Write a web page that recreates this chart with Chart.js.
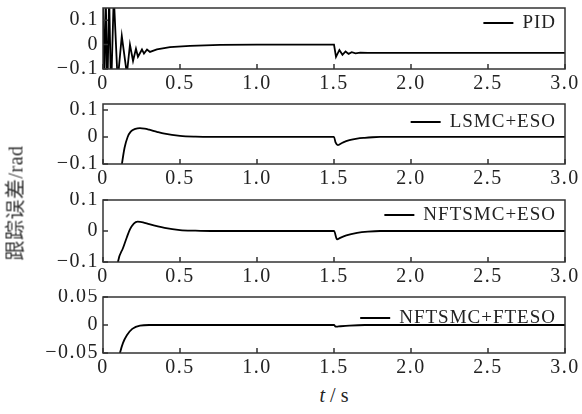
<!DOCTYPE html>
<html>
<head>
<meta charset="utf-8">
<script src="https://cdn.jsdelivr.net/npm/chart.js@4.4.0/dist/chart.umd.min.js"></script>
<style>
  body { margin: 0; background: #fff; }
  #wrap { position: relative; width: 582px; height: 414px; }
  canvas { position: absolute; left: 0; }
  .ytitle { position: absolute; left: 14px; top: 203px; transform: translate(-50%, -50%) rotate(-90deg);
            font: 20px "Liberation Serif", "Noto Sans CJK SC"; white-space: nowrap; color: #333; letter-spacing: 0.5px; }
  .xtitle { position: absolute; left: 334px; top: 395px; transform: translate(-50%, -50%);
            font: 20px "Liberation Serif"; color: #222; white-space: nowrap; }
</style>
</head>
<body>
<div id="wrap">
  <canvas id="c1" width="582" height="93" style="top:0px"></canvas>
  <canvas id="c2" width="582" height="92" style="top:96px"></canvas>
  <canvas id="c3" width="582" height="94" style="top:192px"></canvas>
  <canvas id="c4" width="582" height="88" style="top:289px"></canvas>
  <div class="ytitle">跟踪误差/rad</div>
  <div class="xtitle"><i>t</i> / s</div>
</div>
<script>
// x axis
var xTickLabels = ['0', '0.5', '1.0', '1.5', '2.0', '2.5', '3.0'];
var seriesNames = ['PID', 'LSMC+ESO', 'NFTSMC+ESO', 'NFTSMC+FTESO'];

// y ticks per panel
var yTicks1 = [-0.1, 0, 0.1], yLabels1 = ['\u22120.1', '0', '0.1'];
var yTicks2 = [-0.1, 0, 0.1], yLabels2 = ['\u22120.1', '0', '0.1'];
var yTicks3 = [-0.1, 0, 0.1], yLabels3 = ['\u22120.1', '0', '0.1'];
var yTicks4 = [-0.05, 0, 0.05], yLabels4 = ['\u22120.05', '0', '0.05'];

// tracking error
var pidT = [0, 0.008, 0.018, 0.028, 0.04, 0.052, 0.07, 0.095, 0.122, 0.155, 0.175, 0.195, 0.214, 0.227,
            0.253, 0.266, 0.286, 0.305, 0.35, 0.435, 0.565, 0.76, 1.0, 1.5, 1.513, 1.535, 1.555, 1.575,
            1.595, 1.615, 1.64, 1.67, 1.72, 3.0];
var pidY = [0.2, -0.2, 0.2, -0.2, 0.2, -0.2, 0.2, -0.15, 0.035, -0.12, 0.0, -0.067, -0.017, -0.05,
            -0.02, -0.037, -0.02, -0.03, -0.02, -0.01, -0.005, -0.001, 0, 0, -0.05, -0.022, -0.042, -0.028,
            -0.038, -0.031, -0.036, -0.033, -0.034, -0.034];

var lsmcT = [0, 0.05, 0.1, 0.123, 0.14, 0.16, 0.18, 0.21, 0.24, 0.27, 0.3, 0.35, 0.4, 0.5, 0.6, 0.7,
             1.5, 1.51, 1.525, 1.54, 1.56, 1.6, 1.65, 1.7, 1.75, 1.8, 3.0];
var lsmcY = [-0.8, -0.5, -0.2, -0.1, -0.04, 0.0, 0.02, 0.03, 0.033, 0.031, 0.027, 0.019, 0.012, 0.004, 0.001, 0,
             0, -0.02, -0.03, -0.026, -0.02, -0.012, -0.006, -0.003, -0.001, 0, 0];

var nftT = [0, 0.05, 0.097, 0.13, 0.155, 0.175, 0.2, 0.225, 0.26, 0.3, 0.4, 0.5, 0.6, 0.7,
            1.5, 1.52, 1.54, 1.58, 1.65, 1.72, 1.8, 3.0];
var nftY = [-0.6, -0.3, -0.1, -0.055, -0.02, 0.005, 0.024, 0.03, 0.028, 0.022, 0.01, 0.003, 0.001, 0,
            0, -0.027, -0.022, -0.014, -0.006, -0.002, 0, 0];

var ftT = [0, 0.05, 0.08, 0.11, 0.13, 0.156, 0.19, 0.24, 0.3, 1.5, 1.51, 1.53, 1.6, 1.7, 3.0];
var ftY = [-0.25, -0.14, -0.085, -0.05, -0.032, -0.018, -0.007, -0.001, 0, 0, -0.003, -0.0025, -0.001, 0, 0];

function pts(t, y) {
  return t.map(function (v, i) { return {x: v, y: y[i]}; });
}

var frame = {
  id: 'frame',
  beforeDraw: function (chart) {
    chart.ctx.letterSpacing = '1.5px';
  },
  afterDraw: function (chart, args, opts) {
    var ctx = chart.ctx, a = chart.chartArea, sx = chart.scales.x, sy = chart.scales.y;
    ctx.save();
    ctx.strokeStyle = '#333';
    ctx.lineWidth = 1.5;
    ctx.strokeRect(a.left, a.top, a.right - a.left, a.bottom - a.top);
    ctx.beginPath();
    sx.ticks.forEach(function (t) {
      var px = sx.getPixelForValue(t.value);
      ctx.moveTo(px, a.bottom); ctx.lineTo(px, a.bottom - 5);
    });
    sy.ticks.forEach(function (t) {
      var py = sy.getPixelForValue(t.value);
      ctx.moveTo(a.left, py); ctx.lineTo(a.left + 5, py);
    });
    ctx.stroke();
    // legend, top right inside
    ctx.font = '19px "Liberation Serif"';
    ctx.letterSpacing = '1px';
    ctx.fillStyle = '#222';
    ctx.textAlign = 'right';
    ctx.textBaseline = 'middle';
    var ly = a.top + opts.dy, tr = a.right - 9;
    ctx.fillText(opts.label, tr, ly);
    var w = ctx.measureText(opts.label).width;
    ctx.beginPath();
    ctx.lineWidth = 2;
    ctx.strokeStyle = '#000';
    ctx.moveTo(tr - w - 9 - 30, ly); ctx.lineTo(tr - w - 9, ly);
    ctx.stroke();
    ctx.restore();
  }
};

function drawPanel(id, data, yMin, yMax, yTicks, yLabels, name, dy, smooth) {
  var font = {family: '"Liberation Serif"', size: 20};
  new Chart(document.getElementById(id), {
    type: 'line',
    data: {
      datasets: [{
        label: name,
        data: data,
        borderColor: '#000',
        borderWidth: 1.8,
        pointRadius: 0,
        fill: false,
        cubicInterpolationMode: smooth ? 'monotone' : 'default',
        tension: 0
      }]
    },
    options: {
      responsive: false,
      animation: false,
      devicePixelRatio: 1,
      layout: {padding: {top: 8, right: 17, left: 0, bottom: 0}},
      plugins: {legend: {display: false}, tooltip: {enabled: false}, frame: {label: name, dy: dy}},
      scales: {
        x: {
          type: 'linear', min: 0, max: 3,
          grid: {display: false, drawTicks: false},
          border: {display: false},
          ticks: {
            stepSize: 0.5, font: font, color: '#222', padding: 3, maxRotation: 0, autoSkip: false,
            callback: function (v) { return xTickLabels[Math.round(v / 0.5)]; }
          },
          afterFit: function (s) { s.height = 24; s.paddingLeft = 0; s.paddingRight = 0; }
        },
        y: {
          min: yMin, max: yMax,
          grid: {display: false, drawTicks: false},
          border: {display: false},
          afterBuildTicks: function (s) { s.ticks = yTicks.map(function (v) { return {value: v}; }); },
          ticks: {
            font: font, color: '#222', padding: 4, autoSkip: false,
            callback: function (v) { return yLabels[yTicks.indexOf(v)]; }
          },
          afterFit: function (s) { s.width = 103; s.paddingTop = 0; s.paddingBottom = 0; }
        }
      }
    },
    plugins: [frame]
  });
}

drawPanel('c1', pts(pidT, pidY), -0.1, 0.15, yTicks1, yLabels1, seriesNames[0], 15, false);
drawPanel('c2', pts(lsmcT, lsmcY), -0.1, 0.122, yTicks2, yLabels2, seriesNames[1], 18, true);
drawPanel('c3', pts(nftT, nftY), -0.1, 0.1, yTicks3, yLabels3, seriesNames[2], 15, true);
drawPanel('c4', pts(ftT, ftY), -0.05, 0.05, yTicks4, yLabels4, seriesNames[3], 21, true);
</script>
</body>
</html>
